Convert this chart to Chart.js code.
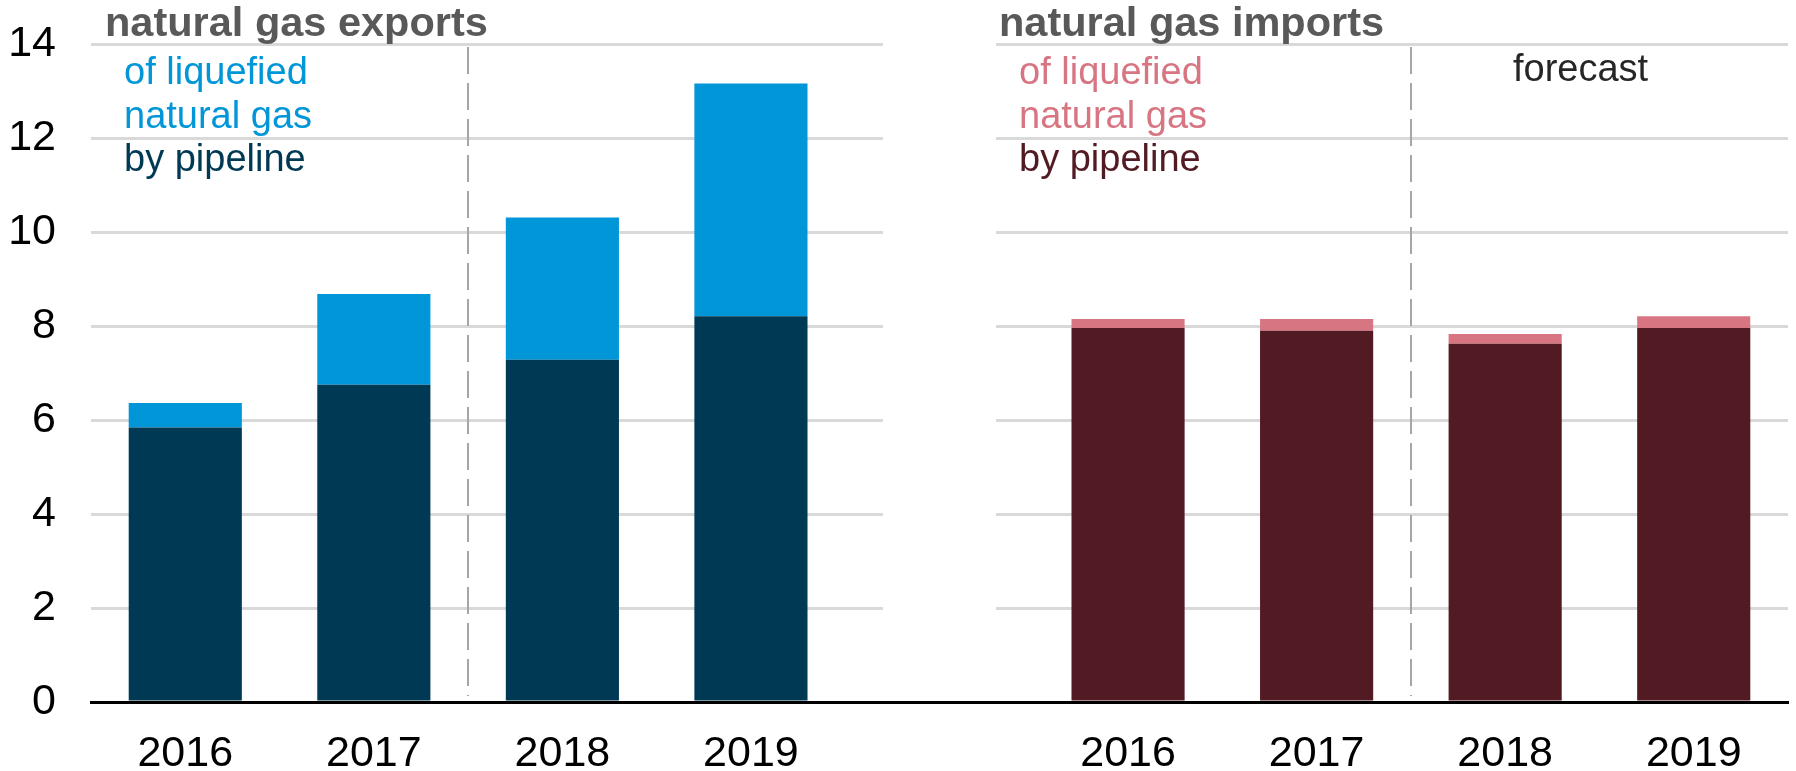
<!DOCTYPE html>
<html>
<head>
<meta charset="utf-8">
<title>natural gas exports and imports</title>
<script src="https://cdn.jsdelivr.net/npm/chart.js@4.4.1/dist/chart.umd.min.js"></script>
<style>
  html, body { margin: 0; padding: 0; background: #fff; }
  #gasChart { display: block; }
</style>
</head>
<body>
<canvas id="gasChart" width="1796" height="771"></canvas>
<script>
// years on each half, the middle slot is left empty
const years = ['2016', '2017', '2018', '2019'];
const labels = years.concat([''], years);

// values (bcf/d)
const exportPipeline = [5.84, 6.75, 7.28, 8.21];
const exportLng = [0.52, 1.93, 3.03, 4.95];
const importPipeline = [7.96, 7.90, 7.62, 7.96];
const importLng = [0.19, 0.25, 0.21, 0.25];

const yTicks = [0, 2, 4, 6, 8, 10, 12, 14];

const FONT = '"Liberation Sans", Arial, sans-serif';
const empty = [null, null, null, null, null];

// text + the bits excel drew that chart.js does not
const panelExtras = {
  id: 'panelExtras',
  beforeDatasetsDraw(chart) {
    const { ctx, chartArea, scales: { x, y } } = chart;
    const slot = x.getPixelForValue(1) - x.getPixelForValue(0);
    const barW = slot * 0.6;

    ctx.save();
    // blank out the gridlines in the empty middle slot
    ctx.fillStyle = '#fff';
    const gx = x.getPixelForValue(4) - barW / 2;
    ctx.fillRect(gx, chartArea.top - 3, barW, y.getPixelForValue(0) - (chartArea.top - 3));

    // dashed line between 2017 and 2018 on both halves
    ctx.strokeStyle = '#a6a6a6';
    ctx.lineWidth = 2;
    ctx.setLineDash([27, 9]);
    [[1, 2], [6, 7]].forEach(pair => {
      const dx = Math.round((x.getPixelForValue(pair[0]) + x.getPixelForValue(pair[1])) / 2);
      ctx.beginPath();
      ctx.moveTo(dx, chartArea.top + 3);
      ctx.lineTo(dx, y.getPixelForValue(0) - 6);
      ctx.stroke();
    });
    ctx.restore();
  },
  afterDraw(chart) {
    const ctx = chart.ctx;
    ctx.save();
    ctx.textBaseline = 'alphabetic';
    ctx.textAlign = 'left';

    ctx.font = 'bold 41.5px ' + FONT;
    ctx.fillStyle = '#595959';
    ctx.fillText('natural gas exports', 105, 36);
    ctx.fillText('natural gas imports', 999, 36);

    ctx.font = '38px ' + FONT;
    ctx.fillStyle = '#0096d7';
    ctx.fillText('of liquefied', 124, 84);
    ctx.fillText('natural gas', 124, 128);
    ctx.fillStyle = '#003953';
    ctx.fillText('by pipeline', 124, 171);

    ctx.fillStyle = '#d77682';
    ctx.fillText('of liquefied', 1019, 84);
    ctx.fillText('natural gas', 1019, 128);
    ctx.fillStyle = '#521a22';
    ctx.fillText('by pipeline', 1019, 171);

    ctx.fillStyle = '#262626';
    ctx.fillText('forecast', 1513, 81);
    ctx.restore();
  }
};

const chart = new Chart(document.getElementById('gasChart'), {
  type: 'bar',
  data: {
    labels: labels,
    datasets: [
      { label: 'exports by pipeline', data: exportPipeline.concat(empty), backgroundColor: '#003953' },
      { label: 'exports of liquefied natural gas', data: exportLng.concat(empty), backgroundColor: '#0096d7' },
      { label: 'imports by pipeline', data: empty.concat(importPipeline), backgroundColor: '#521a22' },
      { label: 'imports of liquefied natural gas', data: empty.concat(importLng), backgroundColor: '#d77682' }
    ]
  },
  options: {
    responsive: false,
    animation: false,
    devicePixelRatio: 1,
    categoryPercentage: 0.6,
    barPercentage: 1,
    layout: { padding: { top: 44, right: 8, bottom: 0, left: 0 } },
    plugins: {
      legend: { display: false },
      tooltip: { enabled: false }
    },
    scales: {
      x: {
        stacked: true,
        grid: { display: false },
        // axis line on top of the bars like the original
        border: { display: true, color: '#000', width: 3, z: 1 },
        ticks: { color: '#000', padding: 18, font: { family: FONT, size: 43 } },
        afterFit(scale) { scale.height = 69; }
      },
      y: {
        stacked: true,
        min: 0,
        max: 14,
        grid: { drawTicks: false, lineWidth: 3, color: '#d9d9d9' },
        border: { display: false },
        ticks: { color: '#000', padding: 35, font: { family: FONT, size: 43 } },
        afterBuildTicks(scale) { scale.ticks = yTicks.map(v => ({ value: v })); },
        afterFit(scale) {
          scale.width = 91;
          // the layout padding already leaves room for the "14"
          scale.paddingTop = 0;
          scale.paddingBottom = 0;
        }
      }
    }
  },
  plugins: [panelExtras]
});
</script>
</body>
</html>
